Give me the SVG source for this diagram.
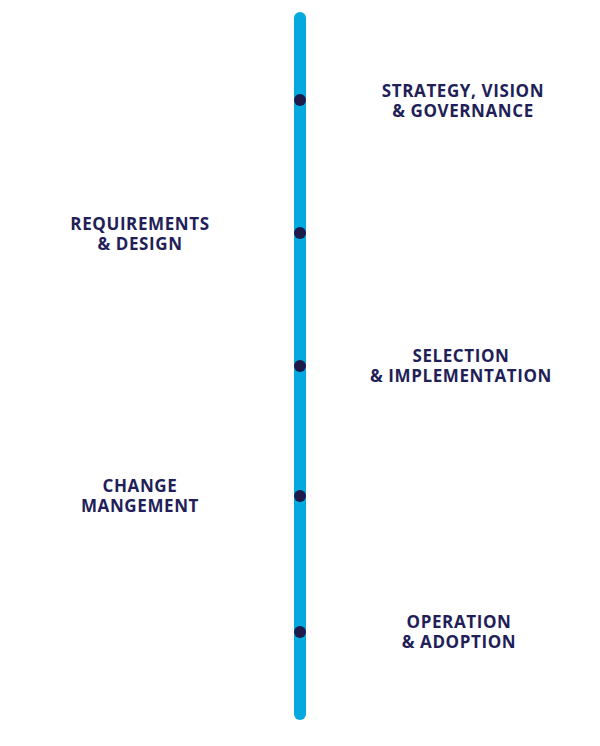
<svg xmlns="http://www.w3.org/2000/svg" width="600" height="746" viewBox="0 0 600 746">
<style>
.t{font-family:"Open Sans","DejaVu Sans",sans-serif;font-weight:700;font-size:17px;letter-spacing:0.6px;fill:#221E58;text-anchor:middle}
.dot{fill:#1E1B4B}
</style>
<rect width="600" height="746" fill="#ffffff"/>
<g id="connectors">
<line x1="300" y1="18" x2="300" y2="714" stroke="#04A9E0" stroke-width="12" stroke-linecap="round"/>
</g>
<g id="n1"><circle class="dot" cx="300" cy="100" r="6"/><text class="t" x="463" y="97">STRATEGY, VISION</text><text class="t" x="463" y="117">&amp; GOVERNANCE</text></g>
<g id="n2"><circle class="dot" cx="300" cy="233" r="6"/><text class="t" x="140" y="230">REQUIREMENTS</text><text class="t" x="140" y="250">&amp; DESIGN</text></g>
<g id="n3"><circle class="dot" cx="300" cy="366" r="6"/><text class="t" x="461" y="362">SELECTION</text><text class="t" x="461" y="382">&amp; IMPLEMENTATION</text></g>
<g id="n4"><circle class="dot" cx="300" cy="496" r="6"/><text class="t" x="140" y="492">CHANGE</text><text class="t" x="140" y="512">MANGEMENT</text></g>
<g id="n5"><circle class="dot" cx="300" cy="632" r="6"/><text class="t" x="459" y="628">OPERATION</text><text class="t" x="459" y="648">&amp; ADOPTION</text></g>
</svg>
